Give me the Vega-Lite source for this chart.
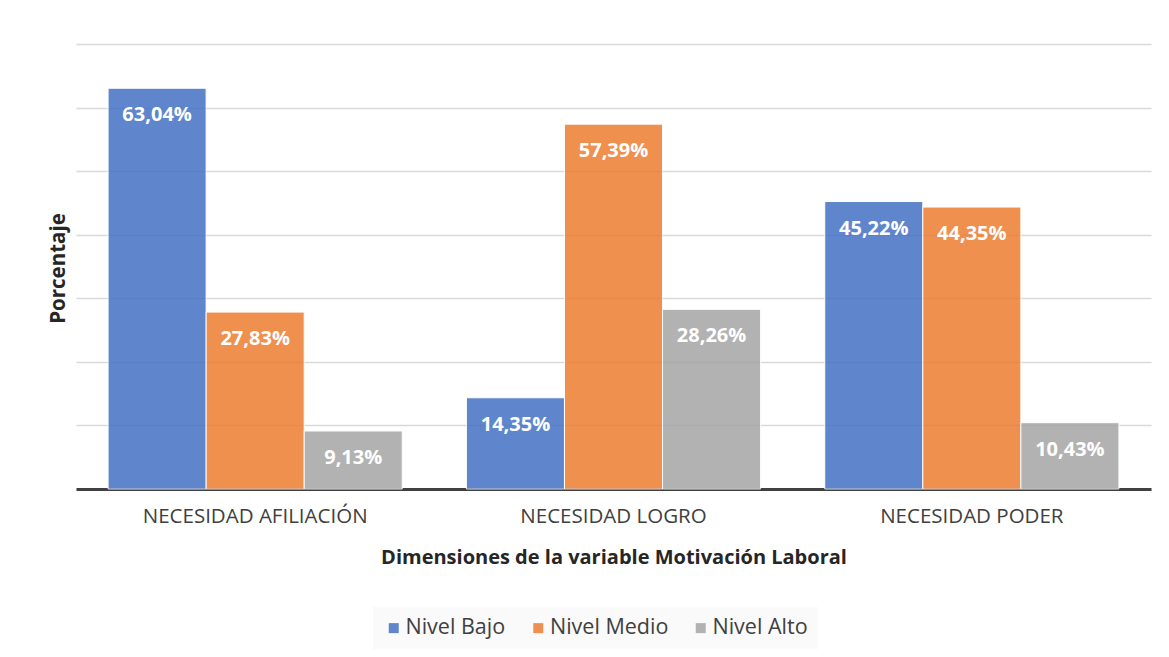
{
  "$schema": "https://vega.github.io/schema/vega-lite/v6.json",
  "width": 1075,
  "height": 445,
  "autosize": {"type": "none"},
  "padding": {"left": 76, "top": 44, "right": 18, "bottom": 168},
  "background": "white",
  "config": {"view": {"stroke": null}, "font": "Open Sans"},
  "data": {
    "values": [
      {"dim": "NECESIDAD AFILIACIÓN", "nivel": "Nivel Bajo", "pct": 63.04, "label": "63,04%"},
      {"dim": "NECESIDAD AFILIACIÓN", "nivel": "Nivel Medio", "pct": 27.83, "label": "27,83%"},
      {"dim": "NECESIDAD AFILIACIÓN", "nivel": "Nivel Alto", "pct": 9.13, "label": "9,13%"},
      {"dim": "NECESIDAD LOGRO", "nivel": "Nivel Bajo", "pct": 14.35, "label": "14,35%"},
      {"dim": "NECESIDAD LOGRO", "nivel": "Nivel Medio", "pct": 57.39, "label": "57,39%"},
      {"dim": "NECESIDAD LOGRO", "nivel": "Nivel Alto", "pct": 28.26, "label": "28,26%"},
      {"dim": "NECESIDAD PODER", "nivel": "Nivel Bajo", "pct": 45.22, "label": "45,22%"},
      {"dim": "NECESIDAD PODER", "nivel": "Nivel Medio", "pct": 44.35, "label": "44,35%"},
      {"dim": "NECESIDAD PODER", "nivel": "Nivel Alto", "pct": 10.43, "label": "10,43%"}
    ]
  },
  "encoding": {
    "x": {
      "field": "dim",
      "type": "nominal",
      "sort": ["NECESIDAD AFILIACIÓN", "NECESIDAD LOGRO", "NECESIDAD PODER"],
      "scale": {"paddingInner": 0.179, "paddingOuter": 0.0895},
      "axis": {
        "title": "Dimensiones de la variable Motivación Laboral",
        "domain": true,
        "domainColor": "#404040",
        "domainWidth": 3,
        "ticks": false,
        "labelAngle": 0,
        "labelFontSize": 20.5,
        "labelLimit": 400,
        "labelColor": "#404040",
        "labelPadding": 17,
        "titleFontSize": 20,
        "titleFontWeight": "bold",
        "titleColor": "#262626",
        "titleY": 68,
        "titleBaseline": "middle"
      }
    },
    "xOffset": {
      "field": "nivel",
      "type": "nominal",
      "sort": ["Nivel Bajo", "Nivel Medio", "Nivel Alto"],
      "scale": {"paddingInner": 0, "paddingOuter": 0}
    },
    "y": {
      "field": "pct",
      "type": "quantitative",
      "scale": {"domain": [0, 70], "nice": false},
      "axis": {
        "title": "Porcentaje",
        "labels": false,
        "ticks": false,
        "domain": false,
        "grid": true,
        "gridColor": "#d9d9d9",
        "gridWidth": 1.3,
        "values": [0, 10, 20, 30, 40, 50, 60, 70],
        "titleFontSize": 20.5,
        "titleFontWeight": "bold",
        "titleColor": "#262626",
        "titleX": -18,
        "titleY": 224,
        "titleAngle": -90,
        "titleBaseline": "middle",
        "titleAlign": "center"
      }
    }
  },
  "layer": [
    {
      "mark": {"type": "bar", "stroke": "white", "strokeWidth": 1, "opacity": 0.85},
      "encoding": {
        "color": {
          "field": "nivel",
          "type": "nominal",
          "scale": {"domain": ["Nivel Bajo", "Nivel Medio", "Nivel Alto"], "range": ["#4472C4", "#ED7D31", "#A5A5A5"]},
          "legend": {
            "orient": "none",
            "legendX": 297,
            "legendY": 563,
            "direction": "horizontal",
            "title": null,
            "fillColor": "#fafafa",
            "padding": 10,
            "symbolType": "square",
            "symbolSize": 100,
            "symbolStrokeWidth": 0,
            "labelFontSize": 21.5,
            "labelLimit": 300,
            "labelColor": "#404040",
            "labelOffset": 1,
            "columnPadding": 21.5
          }
        }
      }
    },
    {
      "mark": {"type": "text", "baseline": "middle", "align": "center", "dy": 27, "fontWeight": "bold", "fontSize": 20, "color": "white"},
      "encoding": {"text": {"field": "label", "type": "nominal"}}
    }
  ]
}
